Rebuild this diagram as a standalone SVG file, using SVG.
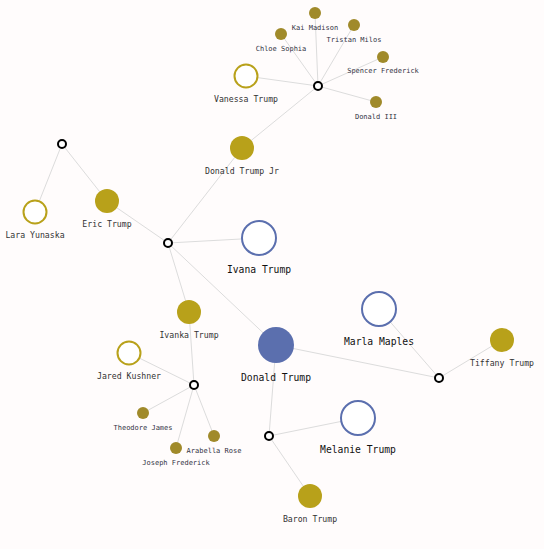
<svg xmlns="http://www.w3.org/2000/svg" width="544" height="549" viewBox="0 0 544 549">
<style>
.e{stroke:#dcdcdc;stroke-width:1;fill:none}
.m{fill:#fff;stroke:#000;stroke-width:2}
.pb{fill:#5b6fae}
.po{fill:#fff;stroke:#5b6fae;stroke-width:2}
.cb{fill:#b8a11a}
.co{fill:#fff;stroke:#b8a11a;stroke-width:2}
.g{fill:#a08a2a}
text{font-family:"DejaVu Sans Mono","Liberation Mono",monospace;fill:#222;text-anchor:middle}
.tl{font-size:9.7px;fill:#111}
.tm{font-size:8.2px;fill:#333}
.ts{font-size:7px;fill:#334}
</style>
<rect width="544" height="549" fill="#fffcfc"/>
<g id="connectors">
<line class="e" x1="318" y1="86" x2="246" y2="76"/>
<line class="e" x1="318" y1="86" x2="242" y2="148"/>
<line class="e" x1="318" y1="86" x2="315" y2="13"/>
<line class="e" x1="318" y1="86" x2="281" y2="34"/>
<line class="e" x1="318" y1="86" x2="354" y2="25"/>
<line class="e" x1="318" y1="86" x2="383" y2="57"/>
<line class="e" x1="318" y1="86" x2="376" y2="102"/>
<line class="e" x1="62" y1="144" x2="35" y2="212"/>
<line class="e" x1="62" y1="144" x2="107" y2="201"/>
<line class="e" x1="168" y1="243" x2="107" y2="201"/>
<line class="e" x1="168" y1="243" x2="242" y2="148"/>
<line class="e" x1="168" y1="243" x2="259" y2="238"/>
<line class="e" x1="168" y1="243" x2="189" y2="312"/>
<line class="e" x1="168" y1="243" x2="276" y2="345"/>
<line class="e" x1="194" y1="385" x2="189" y2="312"/>
<line class="e" x1="194" y1="385" x2="129" y2="353"/>
<line class="e" x1="194" y1="385" x2="143" y2="413"/>
<line class="e" x1="194" y1="385" x2="176" y2="448"/>
<line class="e" x1="194" y1="385" x2="214" y2="436"/>
<line class="e" x1="439" y1="378" x2="276" y2="345"/>
<line class="e" x1="439" y1="378" x2="379" y2="309"/>
<line class="e" x1="439" y1="378" x2="502" y2="340"/>
<line class="e" x1="269" y1="436" x2="276" y2="345"/>
<line class="e" x1="269" y1="436" x2="358" y2="418"/>
<line class="e" x1="269" y1="436" x2="310" y2="496"/>
</g>
<g id="m1"><circle class="m" cx="318" cy="86" r="4"/></g>
<g id="m2"><circle class="m" cx="62" cy="144" r="4"/></g>
<g id="m3"><circle class="m" cx="168" cy="243" r="4"/></g>
<g id="m4"><circle class="m" cx="194" cy="385" r="4"/></g>
<g id="m5"><circle class="m" cx="439" cy="378" r="4"/></g>
<g id="m6"><circle class="m" cx="269" cy="436" r="4"/></g>
<g id="donald-trump"><circle class="pb" cx="276" cy="345" r="18"/><text class="tl" x="276" y="381">Donald Trump</text></g>
<g id="ivana-trump"><circle class="po" cx="259" cy="238" r="17"/><text class="tl" x="259" y="273">Ivana Trump</text></g>
<g id="marla-maples"><circle class="po" cx="379" cy="309" r="17"/><text class="tl" x="379" y="345">Marla Maples</text></g>
<g id="melanie-trump"><circle class="po" cx="358" cy="418" r="17"/><text class="tl" x="358" y="453">Melanie Trump</text></g>
<g id="tiffany-trump"><circle class="cb" cx="502" cy="340" r="12"/><text class="tm" x="502" y="366">Tiffany Trump</text></g>
<g id="baron-trump"><circle class="cb" cx="310" cy="496" r="12"/><text class="tm" x="310" y="522">Baron Trump</text></g>
<g id="ivanka-trump"><circle class="cb" cx="189" cy="312" r="12"/><text class="tm" x="189" y="338">Ivanka Trump</text></g>
<g id="eric-trump"><circle class="cb" cx="107" cy="201" r="12"/><text class="tm" x="107" y="227">Eric Trump</text></g>
<g id="donald-trump-jr"><circle class="cb" cx="242" cy="148" r="12"/><text class="tm" x="242" y="174">Donald Trump Jr</text></g>
<g id="vanessa-trump"><circle class="co" cx="246" cy="76" r="11.5"/><text class="tm" x="246" y="102">Vanessa Trump</text></g>
<g id="lara-yunaska"><circle class="co" cx="35" cy="212" r="11.5"/><text class="tm" x="35" y="238">Lara Yunaska</text></g>
<g id="jared-kushner"><circle class="co" cx="129" cy="353" r="11.5"/><text class="tm" x="129" y="379">Jared Kushner</text></g>
<g id="kai-madison"><circle class="g" cx="315" cy="13" r="6"/><text class="ts" x="315" y="30">Kai Madison</text></g>
<g id="chloe-sophia"><circle class="g" cx="281" cy="34" r="6"/><text class="ts" x="281" y="51">Chloe Sophia</text></g>
<g id="tristan-milos"><circle class="g" cx="354" cy="25" r="6"/><text class="ts" x="354" y="42">Tristan Milos</text></g>
<g id="spencer-frederick"><circle class="g" cx="383" cy="57" r="6"/><text class="ts" x="383" y="73">Spencer Frederick</text></g>
<g id="donald-iii"><circle class="g" cx="376" cy="102" r="6"/><text class="ts" x="376" y="119">Donald III</text></g>
<g id="theodore-james"><circle class="g" cx="143" cy="413" r="6"/><text class="ts" x="143" y="430">Theodore James</text></g>
<g id="arabella-rose"><circle class="g" cx="214" cy="436" r="6"/><text class="ts" x="214" y="453">Arabella Rose</text></g>
<g id="joseph-frederick"><circle class="g" cx="176" cy="448" r="6"/><text class="ts" x="176" y="465">Joseph Frederick</text></g>
</svg>
